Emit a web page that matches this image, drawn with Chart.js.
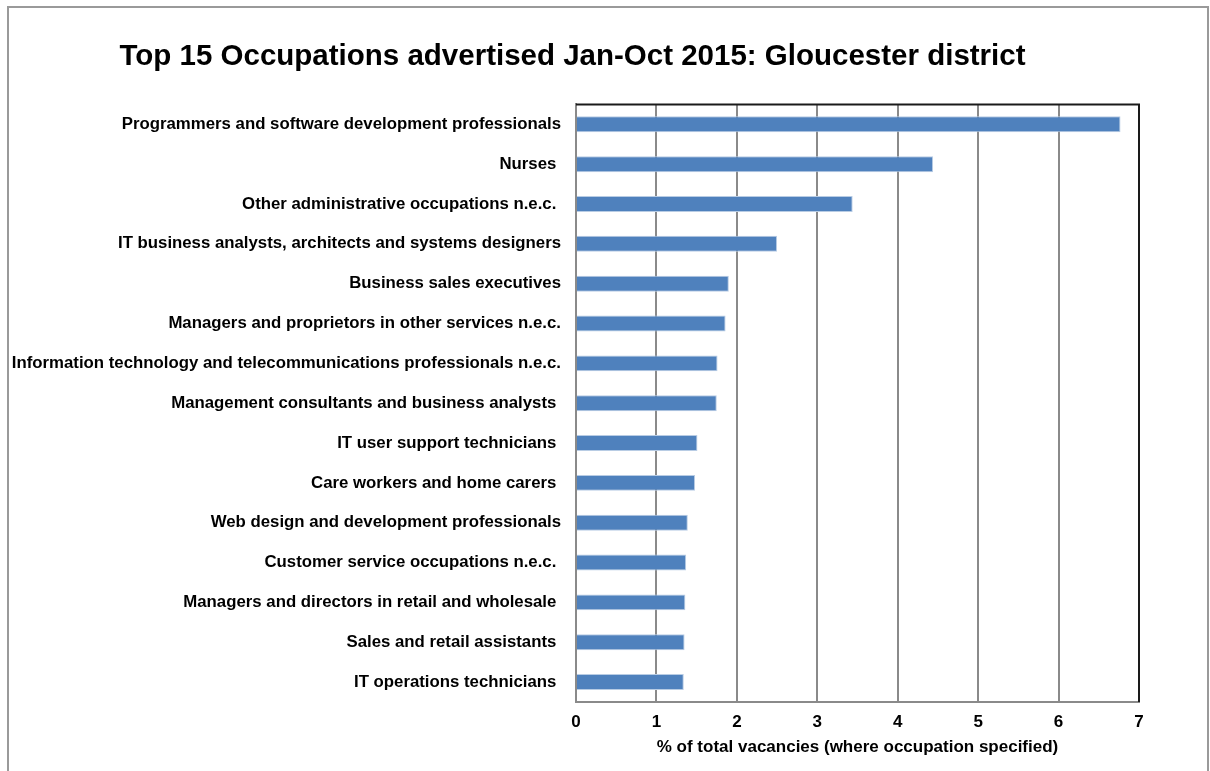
<!DOCTYPE html>
<html>
<head>
<meta charset="utf-8">
<script src="https://cdn.jsdelivr.net/npm/chart.js@4/dist/chart.umd.min.js"></script>
<style>
  html, body { margin: 0; padding: 0; background: #fff; }
  #wrap { position: relative; width: 1210px; height: 771px; overflow: hidden; }
  #frame { position: absolute; left: 7px; top: 6px; width: 1202px; height: 800px; border: 2px solid #9a9a9a; box-sizing: border-box; }
  canvas { position: absolute; left: 0; top: 0; }
</style>
</head>
<body>
<div id="wrap">
  <div id="frame"></div>
  <canvas id="occChart" width="1210" height="771"></canvas>
</div>
<script>
const occupations = [
  'Programmers and software development professionals',
  'Nurses ',
  'Other administrative occupations n.e.c. ',
  'IT business analysts, architects and systems designers',
  'Business sales executives',
  'Managers and proprietors in other services n.e.c.',
  'Information technology and telecommunications professionals n.e.c.',
  'Management consultants and business analysts ',
  'IT user support technicians ',
  'Care workers and home carers ',
  'Web design and development professionals',
  'Customer service occupations n.e.c. ',
  'Managers and directors in retail and wholesale ',
  'Sales and retail assistants ',
  'IT operations technicians '
];

const vacancyShare = [6.77, 4.44, 3.44, 2.50, 1.90, 1.86, 1.76, 1.75, 1.51, 1.48, 1.39, 1.37, 1.36, 1.35, 1.34];

const xTicks = [0, 1, 2, 3, 4, 5, 6, 7];

const FONT = 'Liberation Sans, Arial, sans-serif';

// top + right edge of the plot frame
const plotFrame = {
  id: 'plotFrame',
  afterDraw(chart) {
    const { ctx, chartArea: a } = chart;
    ctx.save();
    ctx.strokeStyle = '#1a1a1a';
    ctx.lineWidth = 2;
    ctx.beginPath();
    ctx.moveTo(a.left, a.top);
    ctx.lineTo(a.right, a.top);
    ctx.lineTo(a.right, a.bottom);
    ctx.stroke();
    ctx.restore();
  }
};

new Chart(document.getElementById('occChart'), {
  type: 'bar',
  data: {
    labels: occupations,
    datasets: [{
      data: vacancyShare,
      backgroundColor: '#4F81BD',
      borderColor: '#b8cce4',
      borderWidth: 1,
      barPercentage: 0.4,
      categoryPercentage: 1
    }]
  },
  options: {
    indexAxis: 'y',
    responsive: false,
    animation: false,
    layout: { padding: { left: 6, right: 71, top: 0, bottom: 0 } },
    plugins: {
      legend: { display: false },
      tooltip: { enabled: false },
      title: {
        display: true,
        text: 'Top 15 Occupations advertised Jan-Oct 2015: Gloucester district',
        color: '#000',
        font: { family: FONT, size: 29.5, weight: 'bold' },
        padding: { top: 39, bottom: 30 }
      }
    },
    scales: {
      x: {
        min: 0,
        max: 7,
        afterBuildTicks: axis => { axis.ticks = xTicks.map(v => ({ value: v })); },
        afterFit: axis => { axis.height = 69; },
        grid: {
          color: c => (c.tick && c.tick.value === 7) ? 'rgba(0,0,0,0)' : '#8a8a8a',
          lineWidth: 2,
          drawTicks: false
        },
        border: { color: '#8a8a8a', width: 2 },
        ticks: {
          color: '#000',
          padding: 10,
          font: { family: FONT, size: 17, weight: 'bold' }
        },
        title: {
          display: true,
          text: '% of total vacancies (where occupation specified)',
          color: '#000',
          font: { family: FONT, size: 17, weight: 'bold' },
          padding: { top: 4, bottom: 13 }
        }
      },
      y: {
        afterFit: axis => { axis.width = 570; },
        grid: { display: false, drawTicks: false },
        border: { color: '#8a8a8a', width: 2 },
        ticks: {
          color: '#000',
          padding: 15,
          autoSkip: false,
          font: { family: FONT, size: 16.8, weight: 'bold' }
        }
      }
    }
  },
  plugins: [plotFrame]
});
</script>
</body>
</html>
